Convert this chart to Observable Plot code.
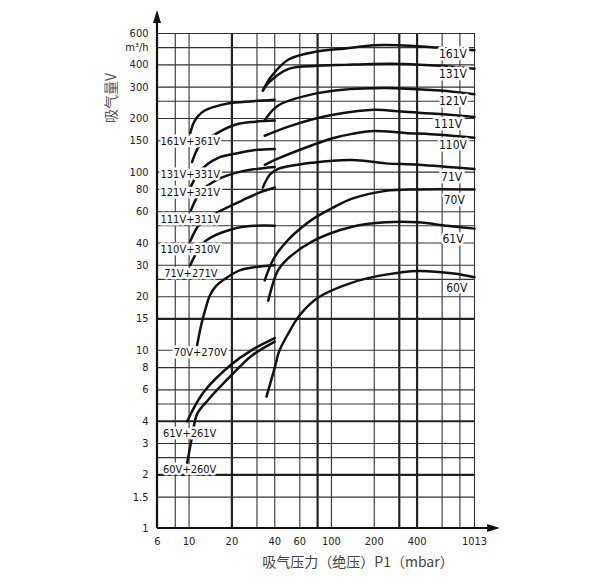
<!DOCTYPE html>
<html><head><meta charset="utf-8">
<script src="https://cdn.jsdelivr.net/npm/d3@7"></script>
<script src="https://cdn.jsdelivr.net/npm/@observablehq/plot@0.6"></script>
<style>
body{margin:0;background:#fff;}
#chart{width:600px;height:586px;}
</style></head><body><div id="chart"></div>
<script>
// grid & ticks
const xGridThin = [8,10,30,40,60,100,200,600,800,1013];
const xGridHeavy = [20,80,300,400];
const yGridThin = [1.5,2.5,3,5,6,8,10,20,25,30,40,50,60,80,100,150,200,250,300,400,500,600];
const yGridHeavy = [2,4,15];
const xTicks = [6,10,20,40,60,100,200,400,1013];
const xTickLabels = ["6","10","20","40","60","100","200","400","1013"];
const yTicks = [1,1.5,2,3,4,6,8,10,15,20,30,40,60,80,100,150,200,300,400,500,600];
const yTickLabels = ["1","1.5","2","3","4","6","8","10","15","20","30","40","60","80","100","150","200","300","400","m\u00b3/h","600"];

// single-pump curves [P1 mbar, V m3/h]
const s161V = [[33,287],[38,346],[50,429],[81,477],[125,495],[200,516],[296,516],[550,500],[1013,483]];
const s131V = [[33,287],[36,316],[50,380],[81,395],[125,400],[200,405],[315,405],[580,395],[1013,380]];
const s121V = [[34,195],[42,236],[74,274],[125,291],[198,296],[282,296],[580,287],[1013,274]];
const s111V = [[34,160],[50,180],[74,198],[110,212],[198,224],[330,218],[580,212],[1013,204]];
const s110V = [[34,110],[42,119],[74,142],[102,155],[140,164],[198,170],[330,166],[580,162],[1013,156]];
const s71V  = [[33,82],[37,97],[42,104],[74,113],[140,117],[241,112],[407,110],[1013,104]];
const s70V  = [[34,24.7],[38,31],[42,35.5],[50,42],[60,48],[74,54.5],[102,63],[140,71],[241,78.5],[407,80],[1013,80]];
const s61V  = [[36,19],[42,28],[48,32],[74,41],[140,49.4],[241,52.3],[407,52.3],[650,50],[1013,48.2]];
const s60V  = [[35,5.5],[40,8],[43,9.9],[50,12.5],[60,15.8],[81,19.8],[140,24],[241,26.6],[407,27.9],[725,27],[1013,25.7]];

// combination curves
const s161_361 = [[10.2,166],[10.8,190],[11.6,207],[12.8,221],[14.6,231],[18.7,243],[27.8,250],[40,255]];
const s131_331 = [[10.5,114],[12,143],[15.4,164],[21.3,185],[29.1,192],[40,195]];
const s121_321 = [[10.3,83],[12,102],[15.9,120],[22.3,128],[29.1,133],[40,135]];
const s111_311 = [[10.3,61],[12,77],[15.9,91],[22.3,100],[29.1,104],[40,107]];
const s110_310 = [[10.2,41],[12,51.6],[16.2,60],[23.7,69.5],[31.5,77],[40,82]];
const s71_271  = [[10.2,30],[11,34],[13,41],[20.3,48],[29.1,50],[40,50]];
const s70_270  = [[11.4,10.7],[12.2,14],[13.1,17.3],[14,20.3],[15.5,23],[17.5,24.9],[22.9,28.2],[32.6,29.6],[40,30]];
const s61_261  = [[9.7,4],[12.6,5.8],[19.7,8.3],[27.4,10],[40,11.7]];
const s60_260  = [[9.7,2.33],[10.5,3.27],[11.4,4.4],[13.7,5.3],[19.7,7.2],[27.4,9.3],[40,11.2]];

// labels
const singleLabels = ["161V","131V","121V","111V","110V","71V","70V","61V","60V"];
const singleLabelX = [715,715,715,660,715,700,730,715,760];
const singleLabelY = [460,355,250,187,142,94,70,42,22.3];
const comboLabels = ["161V+361V","131V+331V","121V+321V","111V+311V","110V+310V","71V+271V","70V+270V","61V+261V","60V+260V"];
const comboLabelX = [10.2,10.2,10.2,10.2,10.2,10.3,12.0,10.1,10.1];
const comboLabelY = [148,97,77,54,37,27,9.7,3.4,2.15];

const curves = [
  ["161V",s161V],["131V",s131V],["121V",s121V],["111V",s111V],["110V",s110V],
  ["71V",s71V],["70V",s70V],["61V",s61V],["60V",s60V],
  ["161V+361V",s161_361],["131V+331V",s131_331],["121V+321V",s121_321],["111V+311V",s111_311],
  ["110V+310V",s110_310],["71V+271V",s71_271],["70V+270V",s70_270],["61V+261V",s61_261],["60V+260V",s60_260]
];
const series = curves.flatMap(([name, pts]) => pts.map(([x, y]) => ({name, x, y})));
const FONT = "DejaVu Sans Condensed, DejaVu Sans, sans-serif";
const CJK = "Noto Sans CJK SC, sans-serif";

const plot = Plot.plot({
  width: 600, height: 586,
  marginLeft: 157, marginRight: 126, marginTop: 33, marginBottom: 58,
  x: {type: "log", domain: [6, 1013], axis: null},
  y: {type: "log", domain: [1, 600], axis: null},
  style: {fontFamily: FONT, fontSize: "11px", color: "#222", background: "#fff"},
  marks: [
    Plot.ruleX(xGridThin, {stroke: "#333", strokeWidth: 1.1}),
    Plot.ruleX(xGridHeavy, {stroke: "#222", strokeWidth: 2.2}),
    Plot.ruleY(yGridThin, {stroke: "#333", strokeWidth: 1.1}),
    Plot.ruleY(yGridHeavy, {stroke: "#222", strokeWidth: 2.2}),
    Plot.line(series, {x: "x", y: "y", z: "name", stroke: "#111", strokeWidth: 2.5, curve: "catmull-rom"}),
    Plot.text(comboLabels.map((t, i) => ({t, x: comboLabelX[i], y: comboLabelY[i]})),
      {x: "x", y: "y", text: "t", fill: "#111", stroke: "white", strokeWidth: 5, paintOrder: "stroke",
       fontSize: 11, fontFamily: FONT}),
    Plot.text(singleLabels.map((t, i) => ({t, x: singleLabelX[i], y: singleLabelY[i]})),
      {x: "x", y: "y", text: "t", fill: "#111", stroke: "white", strokeWidth: 5, paintOrder: "stroke",
       fontSize: 12, fontFamily: FONT}),
    // tick labels
    Plot.text(xTicks, {x: d => d, text: (d, i) => xTickLabels[i], frameAnchor: "bottom", dy: 16,
      fontSize: 11, fontFamily: FONT, fill: "#222"}),
    Plot.text(yTicks, {y: d => d, text: (d, i) => yTickLabels[i], frameAnchor: "left", dx: -9,
      textAnchor: "end", fontSize: 11, fontFamily: FONT, fill: "#222"}),
    // axis titles
    Plot.text(["吸气量V"], {frameAnchor: "left", dx: -46, dy: -158, rotate: -90, fontSize: 14,
      fontFamily: CJK, fill: "#555"}),
    Plot.text(["吸气压力（绝压）P1（mbar）"], {frameAnchor: "bottom", dx: 42, dy: 38, fontSize: 14,
      fontFamily: CJK, fill: "#444"})
  ]
});
document.getElementById("chart").appendChild(plot);

// axis lines with arrows, positioned through the plot's own scales
const X = plot.scale("x"), Y = plot.scale("y");
const svg = d3.select(plot);
const x0 = X.apply(6), xr = X.apply(1013), yb = Y.apply(1), yt = Y.apply(600);
const g = svg.append("g").attr("fill", "#111").attr("stroke", "#111");
g.append("line").attr("x1", x0).attr("y1", yb).attr("x2", x0).attr("y2", yt - 12).attr("stroke-width", 2.2);
g.append("path").attr("stroke", "none").attr("d", `M${x0 - 4},${yt - 10}L${x0},${yt - 23}L${x0 + 4},${yt - 10}Z`);
g.append("line").attr("x1", x0).attr("y1", yb).attr("x2", xr + 15).attr("y2", yb).attr("stroke-width", 2.2);
g.append("path").attr("stroke", "none").attr("d", `M${xr + 13},${yb - 4}L${xr + 26},${yb}L${xr + 13},${yb + 4}Z`);
</script></body></html>
